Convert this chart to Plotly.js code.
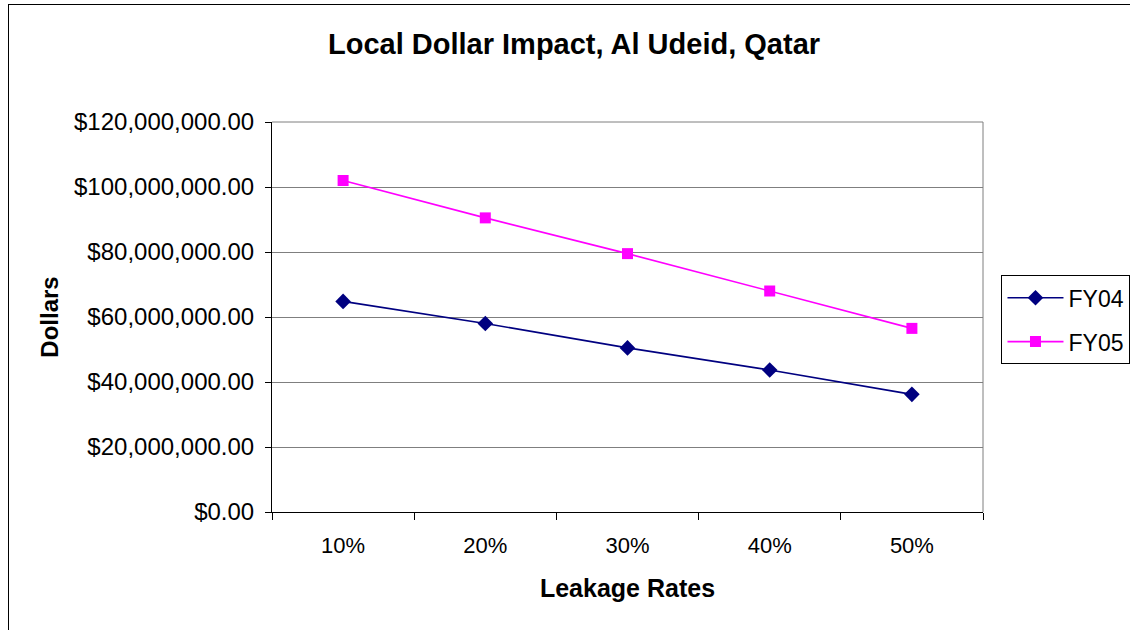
<!DOCTYPE html>
<html>
<head>
<meta charset="utf-8">
<script src="https://cdn.plot.ly/plotly-3.0.1.min.js"></script>
<style>
html,body{margin:0;padding:0;background:#fff;}
#wrap{position:relative;width:1130px;height:630px;overflow:hidden;}
#chart{position:absolute;left:0;top:0;width:1130px;height:630px;}
#frame{position:absolute;left:8px;top:4px;width:1200px;height:700px;border-left:1px solid #000;border-top:1px solid #000;pointer-events:none;}
</style>
</head>
<body>
<div id="wrap">
<div id="chart"></div>
<div id="frame"></div>
</div>
<script>
const categories = ['10%', '20%', '30%', '40%', '50%'];
const fy04 = [64800000, 58000000, 50500000, 43700000, 36200000];
const fy05 = [102000000, 90500000, 79500000, 68000000, 56500000];
const yTicks = [0, 20000000, 40000000, 60000000, 80000000, 100000000, 120000000];

const font = 'Arial, "Liberation Sans", sans-serif';

const traces = [
  {
    x: categories, y: fy04, name: 'FY04', type: 'scatter', mode: 'lines+markers', legendgroup: 'a',
    line: {color: '#000080', width: 1.6},
    marker: {symbol: 'diamond', size: 12, color: '#000080'}
  },
  {
    x: categories, y: fy05, name: 'FY05', type: 'scatter', mode: 'lines+markers', legendgroup: 'b',
    line: {color: '#FF00FF', width: 1.6},
    marker: {symbol: 'square', size: 11, color: '#FF00FF'}
  }
];

const layout = {
  width: 1130, height: 630,
  paper_bgcolor: '#fff', plot_bgcolor: '#fff',
  margin: {l: 272, r: 147, t: 122, b: 118, autoexpand: false},
  showlegend: true,
  title: {text: '<b>Local Dollar Impact, Al Udeid, Qatar</b>', font: {family: font, size: 29, color: '#000'},
          x: 0.508, xanchor: 'center', xref: 'container', y: 0.93, yanchor: 'middle'},
  font: {family: font, color: '#000'},
  xaxis: {
    type: 'category', range: [-0.5, 4.5],
    tickson: 'boundaries', ticks: 'outside', ticklen: 7, tickcolor: '#000', tickwidth: 1,
    ticklabelstandoff: 14,
    showline: true, linecolor: '#000', linewidth: 1, mirror: false,
    showgrid: false, zeroline: false,
    tickfont: {family: font, size: 22, color: '#000'},
    title: {text: '<b>Leakage Rates</b>', font: {family: font, size: 25, color: '#000'}, standoff: 22}
  },
  yaxis: {
    range: [0, 120000000], tickvals: yTicks, tickformat: '$,.2f',
    ticks: 'outside', ticklen: 6, tickcolor: '#000',
    ticklabelstandoff: 6,
    showline: true, linecolor: '#000', linewidth: 1,
    showgrid: true, gridcolor: '#7f7f7f', gridwidth: 1, zeroline: false,
    tickfont: {family: font, size: 24, color: '#000'},
    title: {text: '<b>Dollars</b>', font: {family: font, size: 24, color: '#000'}, standoff: 8}
  },
  shapes: [
    {type: 'line', xref: 'paper', yref: 'paper', x0: 0, x1: 1, y0: 1, y1: 1, line: {color: '#7f7f7f', width: 1}},
    {type: 'line', xref: 'paper', yref: 'paper', x0: 1, x1: 1, y0: 0, y1: 1, line: {color: '#7f7f7f', width: 1}}
  ],
  legend: {
    x: 1.026, xanchor: 'left', y: 0.493, yanchor: 'middle',
    bordercolor: '#000', borderwidth: 1, bgcolor: '#fff',
    font: {family: font, size: 23, color: '#000'},
    traceorder: 'grouped', tracegroupgap: 11,
    itemwidth: 56, entrywidth: 150, entrywidthmode: 'pixels'
  }
};

Plotly.newPlot('chart', traces, layout, {displayModeBar: false, staticPlot: true});
</script>
</body>
</html>
